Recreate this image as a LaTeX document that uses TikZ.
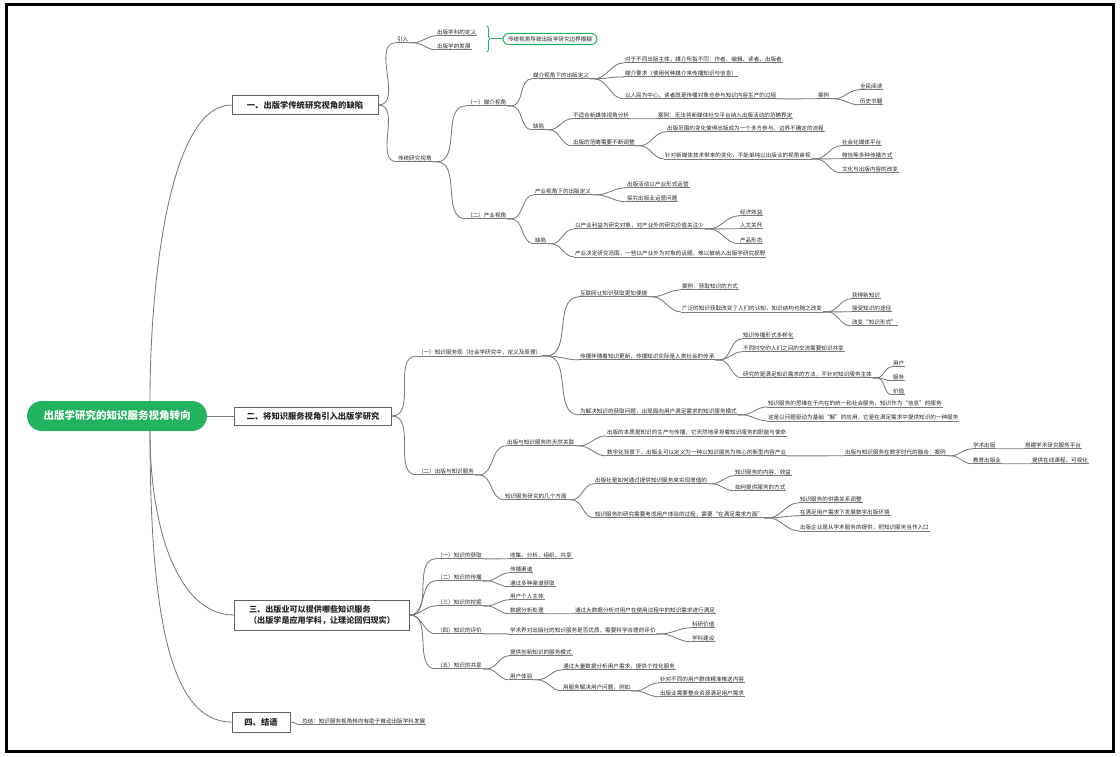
\documentclass[tikz,border=0pt]{standalone}
\usepackage{fontspec}
\setmainfont{Noto Sans CJK SC}
\usetikzlibrary{decorations.pathreplacing}
\definecolor{gr}{HTML}{22B35E}
\definecolor{ln}{HTML}{7A7A7A}
\definecolor{tx}{HTML}{262626}
\tikzset{
 lf/.style={anchor=west, inner xsep=0.8pt, inner ysep=1pt, font=\fontsize{5.6}{6}\selectfont, text=tx,
   append after command={(\tikzlastnode.south west) edge[draw=ln, line width=0.75pt] (\tikzlastnode.south east)}},
 lbox/.style={draw=ln!80!black, line width=0.9pt, fill=white, inner sep=2pt, font=\fontsize{8.3}{11}\selectfont\bfseries, text=tx},
 gbx/.style={draw=gr, line width=1pt, rounded corners=6pt, fill=white, inner xsep=5pt, inner ysep=3pt, font=\fontsize{5.6}{6}\selectfont, text=tx},
 cn/.style={draw=ln, line width=0.85pt},
}
\newcommand\lk[2]{\draw[cn] (#1.south east) -- ++(4,0) to[out=0,in=180] (#2.south west);}
\newcommand\bk[2]{\draw[cn] (#1.east) to[out=0,in=180] (#2.south west);}
\begin{document}
\begin{tikzpicture}[x=1pt,y=-1pt]
\useasboundingbox (0,0) rectangle (1120,757);
\fill[white] (0,0) rectangle (1120,757);
\draw[line width=3pt] (6,5) rectangle (1113,751);

% root and level 1
\node[fill=gr, rounded corners=15pt, minimum width=180pt, minimum height=30pt, text=white, font=\fontsize{10.5}{12}\selectfont\bfseries] (root) at (117,416) {出版学研究的知识服务视角转向};
\node[lbox, minimum width=146pt, minimum height=19pt] (La) at (305,105) {一、出版学传统研究视角的缺陷};
\node[lbox, minimum width=157pt, minimum height=18pt] (Lb) at (313,416) {二、将知识服务视角引入出版学研究};
\node[lbox, minimum width=175pt, minimum height=30pt, align=left, font=\fontsize{8.1}{11}\selectfont\bfseries] (Lc) at (322,615) {三、出版业可以提供哪些知识服务\\（出版学是应用学科，让理论回归现实）};
\node[lbox, minimum width=58pt, minimum height=20pt] (Ld) at (261,722) {四、结语};

\draw[cn] ([xshift=33pt]root.north) .. controls +(0,-120) and +(-62,0) .. (La.west);
\draw[cn] (root.east) -- (Lb.west);
\draw[cn] ([xshift=33pt]root.south) .. controls +(0,100) and +(-55,0) .. (Lc.west);
\draw[cn] ([xshift=33pt]root.south) .. controls +(0,190) and +(-60,0) .. (Ld.west);

% section 1
\node[lf] (yr) at (396,39) {引入};
\node[lf] (def) at (436,32) {出版学科的定义};
\node[lf] (dev) at (436,46) {出版学的发展};
\draw[gr, line width=1pt, decorate, decoration={brace, amplitude=3pt}] (487,26) -- (487,52);
\coordinate (bt) at (491,39);
\node[gbx] (gbox) at (550,39) {传统视角导致出版学研究边界模糊};
\draw[gr, line width=1pt] (bt) -- (gbox.west);
\node[lf] (ctv) at (397,158) {传统研究视角};
\node[lf] (m1) at (466,102) {（一）媒介视角};
\node[lf] (p1) at (466,215) {（二）产业视角};
\node[lf] (mA) at (532,75) {媒介视角下的出版定义};
\node[lf] (mB) at (532,126) {缺陷};
\node[lf] (mA1) at (624,59) {对于不同出版主体，媒介所指不同：作者、编辑、读者、出版者};
\node[lf] (mA2) at (624,73) {媒介要求（使用何种媒介来传播知识与信息）};
\node[lf] (mA3) at (624,95) {以人民为中心，读者既是传播对象也参与知识内容生产的过程};
\node[lf] (mA3c) at (817,95) {案例};
\node[lf] (qm) at (859,86) {全民阅读};
\node[lf] (ls) at (859,101) {历史书籍};
\node[lf] (mB1) at (572,115) {不适合新媒体视角分析};
\node[lf] (mB1c) at (657,115) {案例：无法将新媒体社交平台纳入出版活动的范畴界定};
\node[lf] (mB2) at (572,142) {出版的范畴需要不断调整};
\node[lf] (mB21) at (666,128) {出版范围的变化使得出版成为一个多方参与、边界不确定的流程};
\node[lf] (mB22) at (664,155) {针对新媒体技术带来的变化，不能单纯以出版业的视角审视};
\node[lf] (s1) at (841,142) {社会化媒体平台};
\node[lf] (s2) at (841,155) {微信等多种传播方式};
\node[lf] (s3) at (841,169) {文化与出版内容的改变};
\node[lf] (pA) at (534,191) {产业视角下的出版定义};
\node[lf] (pB) at (534,240) {缺陷};
\node[lf] (pA1) at (626,184) {出版活动以产业形式运营};
\node[lf] (pA2) at (626,198) {探究出版业运营问题};
\node[lf] (pB1) at (574,225) {以产业利益为研究对象，对产业外的研究价值关注少};
\node[lf] (pB2) at (574,253) {产业决定研究范围，一些以产业外为对象的话题，难以被纳入出版学研究视野};
\node[lf] (e1) at (739,212) {经济效益};
\node[lf] (e2) at (739,225) {人文关怀};
\node[lf] (e3) at (739,240) {产品形态};

% section 2
\node[lf] (k1) at (417,352) {（一）知识服务观（社会学研究中，定义及原理）};
\node[lf] (k2) at (417,471) {（二）出版与知识服务};
\node[lf] (k1a) at (579,293) {互联网让知识获取更加便捷};
\node[lf] (k1b) at (579,356) {传播伴随着知识更新，传播知识实际是人类社会的传承};
\node[lf] (k1c) at (579,411) {为解决知识的获取问题，出现面向用户满足需求的知识服务模式};
\node[lf] (k1a1) at (681,286) {案例：获取知识的方式};
\node[lf] (k1a2) at (681,308) {广泛的知识获取改变了人们的认知，知识结构也随之改变};
\node[lf] (g1) at (851,295) {获得新知识};
\node[lf] (g2) at (851,308) {接受知识的途径};
\node[lf] (g3) at (851,322) {改变“知识形式”};
\node[lf] (k1b1) at (742,335) {知识传播形式多样化};
\node[lf] (k1b2) at (742,348) {不同时空的人们之间的交流需要知识共享};
\node[lf] (k1b3) at (742,374) {研究的是满足知识需求的方法，不针对知识服务主体};
\node[lf] (u1) at (892,363) {用户};
\node[lf] (u2) at (892,377) {服务};
\node[lf] (u3) at (892,391) {价值};
\node[lf] (k1c1) at (767,403) {知识服务的思维在于内在的统一和社会服务，知识作为“信息”的服务};
\node[lf] (k1c2) at (767,417) {这是以问题驱动为基础“解”的应用，它是在满足需求中提供知识的一种服务};
\node[lf] (k2a) at (506,442) {出版与知识服务的天然关联};
\node[lf] (k2b) at (504,496) {知识服务研究的几个方面};
\node[lf] (k2a1) at (606,432) {出版的本质是知识的生产与传播，它天然地承担着知识服务的职能与使命};
\node[lf] (k2a2) at (606,452) {数字化背景下，出版业可以定义为一种以知识服务为核心的新型内容产业};
\node[lf] (k2a2c) at (844,452) {出版与知识服务在数字时代的融合：案例};
\node[lf] (x1) at (972,445) {学术出版};
\node[lf] (x1c) at (1024,445) {搭建学术研究服务平台};
\node[lf] (x2) at (972,460) {教育出版业};
\node[lf] (x2c) at (1031,460) {提供在线课程、可视化};
\node[lf] (k2b1) at (594,480) {出版社是如何通过提供知识服务来实现增值的};
\node[lf] (k2b2) at (594,514) {知识服务的研究需要考虑用户体验的过程，需要“在满足需求方面”};
\node[lf] (y1) at (734,472) {知识服务的内容、效益};
\node[lf] (y2) at (734,487) {如何提供服务的方式};
\node[lf] (z1) at (799,499) {知识服务的供需关系调整};
\node[lf] (z2) at (799,512) {在满足用户需求下发展数字出版环境};
\node[lf] (z3) at (799,527) {出版企业是从学术服务的提供，把知识服务当作入口};

% section 3
\node[lf] (t1) at (436,555) {（一）知识的获取};
\node[lf] (t1c) at (509,555) {收集、分析、组织、共享};
\node[lf] (t2) at (436,577) {（二）知识的传播};
\node[lf] (t21) at (509,569) {传播渠道};
\node[lf] (t22) at (509,583) {通过多种渠道获取};
\node[lf] (t3) at (436,602) {（三）知识的挖掘};
\node[lf] (t31) at (509,596) {用户个人主体};
\node[lf] (t32) at (509,610) {数据分析处理};
\node[lf] (t32c) at (574,610) {通过大数据分析对用户在使用过程中的知识需求进行满足};
\node[lf] (t4) at (436,630) {（四）知识的评价};
\node[lf] (t4c) at (509,630) {学术界对出版社的知识服务是否优质，需要科学合理的评价};
\node[lf] (v1) at (691,624) {科研价值};
\node[lf] (v2) at (691,638) {学科建设};
\node[lf] (t5) at (436,665) {（五）知识的共享};
\node[lf] (t51) at (509,652) {提供创新知识的服务模式};
\node[lf] (t52) at (509,676) {用户体验};
\node[lf] (w1) at (562,666) {通过大量数据分析用户需求，提供个性化服务};
\node[lf] (w2) at (562,687) {用服务解决用户问题，例如};
\node[lf] (w21) at (659,679) {针对不同的用户群体精准推送内容};
\node[lf] (w22) at (659,693) {出版业需要整合资源满足用户需求};

% section 4
\node[lf] (fin) at (301,721) {总结：知识服务视角转向有助于推动出版学科发展};

% connectors
\foreach \a/\b in {La/yr, La/ctv, Lb/k1, Lb/k2, Lc/t1, Lc/t2, Lc/t3, Lc/t4, Lc/t5, Ld/fin} {\bk{\a}{\b}}
\foreach \a/\b in {yr/def, yr/dev, ctv/m1, ctv/p1, m1/mA, m1/mB, mA/mA1, mA/mA2, mA/mA3, mA3/mA3c, mA3c/qm, mA3c/ls,
  mB/mB1, mB/mB2, mB1/mB1c, mB2/mB21, mB2/mB22, mB22/s1, mB22/s2, mB22/s3,
  p1/pA, p1/pB, pA/pA1, pA/pA2, pB/pB1, pB/pB2, pB1/e1, pB1/e2, pB1/e3,
  k1/k1a, k1/k1b, k1/k1c, k1a/k1a1, k1a/k1a2, k1a2/g1, k1a2/g2, k1a2/g3, k1b/k1b1, k1b/k1b2, k1b/k1b3,
  k1b3/u1, k1b3/u2, k1b3/u3, k1c/k1c1, k1c/k1c2,
  k2/k2a, k2/k2b, k2a/k2a1, k2a/k2a2, k2a2/k2a2c, k2a2c/x1, k2a2c/x2, x1/x1c, x2/x2c,
  k2b/k2b1, k2b/k2b2, k2b1/y1, k2b1/y2, k2b2/z1, k2b2/z2, k2b2/z3,
  t1/t1c, t2/t21, t2/t22, t3/t31, t3/t32, t32/t32c, t4/t4c, t4c/v1, t4c/v2, t5/t51, t5/t52, t52/w1, t52/w2, w2/w21, w2/w22} {\lk{\a}{\b}}
\end{tikzpicture}
\end{document}
